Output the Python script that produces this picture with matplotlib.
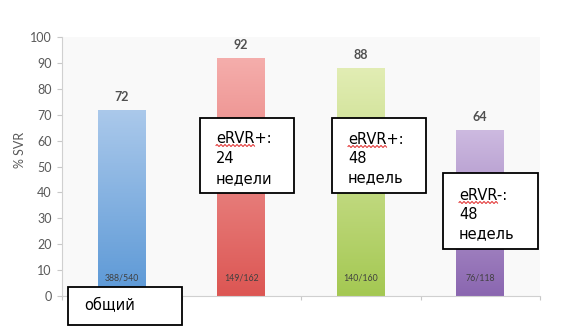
import numpy as np
import matplotlib
matplotlib.use("Agg")
import matplotlib.pyplot as plt
from matplotlib.colors import LinearSegmentedColormap
from matplotlib.patches import Rectangle

# SVR by group
groups = ["общий", "eRVR+: 24 недели", "eRVR+: 48 недель", "eRVR-: 48 недель"]
svr = [72, 92, 88, 64]
counts = ["388/540", "149/162", "140/160", "76/118"]
box_lines = [["общий"],
             ["eRVR+:", "24", "недели"],
             ["eRVR+:", "48", "недель"],
             ["eRVR-:", "48", "недель"]]

# gradient colours per bar (top, bottom)
grad_colors = [("#abc9eb", "#5b98d6"),
               ("#f5aeac", "#dc5653"),
               ("#e2edb4", "#a4c852"),
               ("#cdbae0", "#8a66b0")]

W, H = 579, 329
fig = plt.figure(figsize=(W / 100, H / 100), dpi=100)

def fx(x):
    return x / W

def fy(y):
    return 1 - y / H

ax = fig.add_axes([fx(62), fy(296), (540 - 62) / W, (296 - 37) / H])
ax.set_facecolor("#f9f9f9")

x = np.arange(len(svr))
bars = ax.bar(x, svr, width=0.4, color="none", edgecolor="none", zorder=2)

grad = np.linspace(0, 1, 256).reshape(-1, 1)
for bar, (c_top, c_bot) in zip(bars, grad_colors):
    cmap = LinearSegmentedColormap.from_list("g", [c_top, c_bot])
    x0 = bar.get_x()
    x1 = x0 + bar.get_width()
    img = ax.imshow(grad, cmap=cmap, aspect="auto", origin="upper",
                    extent=[x0, x1, 0, bar.get_height()], zorder=2)
    img.set_clip_path(bar)

for i, (v, c) in enumerate(zip(svr, counts)):
    ax.annotate(str(v), (x[i], v), xytext=(0, 5), textcoords="offset points",
                ha="center", va="bottom", fontsize=9, fontweight="bold",
                color="#505050", family="Lato")
    ax.annotate(c, (x[i], 0), xytext=(0, 13), textcoords="offset points",
                ha="center", va="center", fontsize=6.3, color="#404040",
                family="Lato", zorder=3)

ax.set_xlim(-0.5, len(svr) - 0.5)
ax.set_ylim(0, 100)
ax.set_yticks(range(0, 101, 10))
ax.set_xticks(np.arange(len(svr) + 1) - 0.5)
ax.set_xticklabels([])
ax.tick_params(axis="y", length=3.5, width=0.8, color="#c8c8c8",
               labelsize=9, labelcolor="#595959", pad=4)
ax.tick_params(axis="x", length=3, width=0.8, color="#c8c8c8")
for lbl in ax.get_yticklabels():
    lbl.set_family("Lato")
for s in ["top", "right"]:
    ax.spines[s].set_visible(False)
ax.spines["left"].set_color("#d0d0d0")
ax.spines["bottom"].set_color("#d0d0d0")

fig.text(fx(20), fy(150), "% SVR", rotation=90, ha="center", va="center",
         fontsize=9, color="#595959", family="Lato")

# annotation boxes (left, top, right, bottom in pixels) and line baselines
box_pos = [(68, 287, 182, 325), (200, 118, 294, 193),
           (332, 118, 426, 193), (443, 173, 538, 249)]
baselines = [[23], [25, 45, 65], [26, 45, 64], [27, 46, 65]]

renderer = fig.canvas.get_renderer()
for (l, t, r, b), lines, offs in zip(box_pos, box_lines, baselines):
    fig.patches.append(Rectangle((fx(l), fy(b)), (r - l) / W, (b - t) / H,
                                 transform=fig.transFigure, facecolor="white",
                                 edgecolor="black", linewidth=1.3, zorder=5))
    for line, dy in zip(lines, offs):
        fig.text(fx(l + 16), fy(t + dy), line, ha="left", va="baseline",
                 fontsize=10.5, color="black", family="DejaVu Sans", zorder=6)
    if lines[0].startswith("eRVR"):
        # red spell-check squiggle under "eRVR"
        probe = fig.text(fx(l + 16), fy(t + offs[0]), "eRVR", ha="left",
                         va="baseline", fontsize=10.5, family="DejaVu Sans")
        bb = probe.get_window_extent(renderer)
        probe.remove()
        base = H - (t + offs[0])
        xs = np.linspace(bb.x0, bb.x1, 80)
        ys = base - 2.5 + 0.9 * np.sin((xs - bb.x0) / 4.0 * 2 * np.pi)
        fig.add_artist(plt.Line2D(xs / W, ys / H, color="#e02020",
                                  linewidth=0.7, transform=fig.transFigure,
                                  zorder=7))

fig.savefig("out.png", dpi=100)
